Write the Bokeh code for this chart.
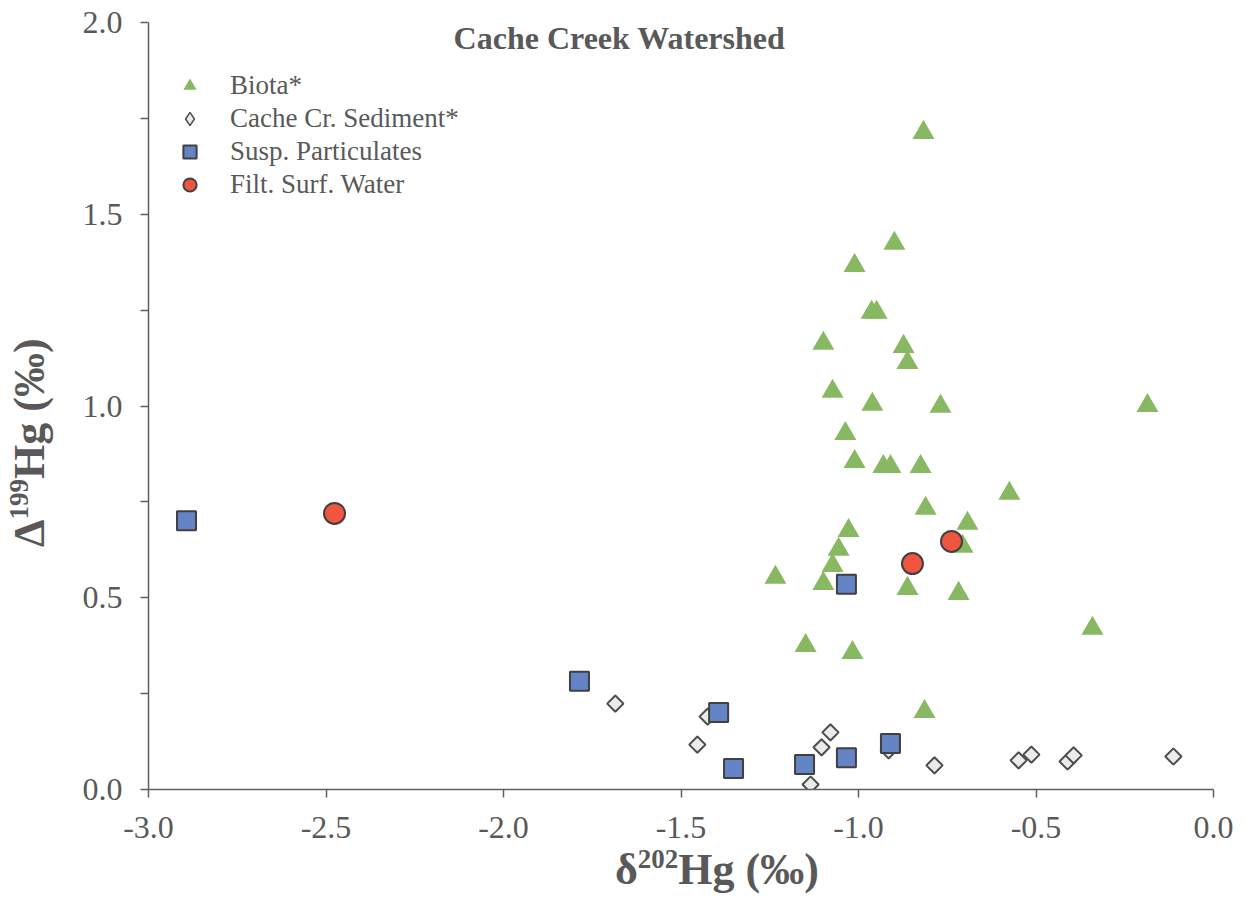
from bokeh.plotting import figure
from bokeh.models import Range1d, FixedTicker, Legend, LegendItem, Label, Div
from bokeh.layouts import column
from bokeh.embed import file_html
from bokeh.resources import INLINE

# Hg isotope data, Cache Creek watershed: d202Hg (x) vs D199Hg (y), per mille
biota_d202 = [-0.817, -0.899, -1.011, -0.963, -0.949, -1.099, -0.873, -0.862,
              -1.073, -0.961, -0.769, -0.186, -1.037, -1.011, -0.930, -0.910,
              -0.825, -0.575, -0.811, -0.693, -0.707, -1.028, -1.056, -1.073,
              -1.099, -1.234, -0.862, -0.718, -0.341, -1.149, -1.017, -0.814]
biota_D199 = [1.713, 1.424, 1.366, 1.244, 1.244, 1.163, 1.155, 1.113,
              1.038, 1.004, 0.999, 1.001, 0.928, 0.855, 0.842, 0.842,
              0.842, 0.772, 0.733, 0.694, 0.634, 0.675, 0.626, 0.584,
              0.537, 0.553, 0.524, 0.511, 0.420, 0.375, 0.357, 0.203]

sediment_d202 = [-1.685, -1.425, -1.454, -1.079, -1.104, -1.135, -0.915,
                 -0.786, -0.549, -0.513, -0.411, -0.394, -0.113]
sediment_D199 = [0.224, 0.190, 0.117, 0.149, 0.110, 0.013, 0.102,
                 0.063, 0.076, 0.091, 0.073, 0.089, 0.086]

particulates_d202 = [-2.893, -1.034, -1.786, -1.394, -1.352, -1.152, -1.034, -0.910]
particulates_D199 = [0.701, 0.535, 0.282, 0.201, 0.055, 0.065, 0.083, 0.120]

water_d202 = [-2.476, -0.848, -0.738]
water_D199 = [0.720, 0.589, 0.647]

series_names = ["Biota*", "Cache Cr. Sediment*", "Susp. Particulates", "Filt. Surf. Water"]

x_ticks = [-3.0, -2.5, -2.0, -1.5, -1.0, -0.5, 0.0]
x_tick_labels = ["-3.0", "-2.5", "-2.0", "-1.5", "-1.0", "-0.5", "0.0"]
y_ticks = [0.0, 0.5, 1.0, 1.5, 2.0]
y_tick_labels = ["0.0", "0.5", "1.0", "1.5", "2.0"]
y_minor_ticks = [0.25, 0.75, 1.25, 1.75]

FONT = "Liberation Serif"
TEXT = "#595959"
AXIS = "#5f5f5f"

# frame placement on the canvas (pixels)
LEFT, RIGHT, TOP, BOTTOM = 148, 1213, 22, 789
W, H = 1246, 899

p = figure(width=W, height=H,
           x_range=Range1d(-3.0, 0.0), y_range=Range1d(0.0, 2.0),
           output_backend="svg", toolbar_location=None,
           min_border_left=LEFT, min_border_right=W - RIGHT,
           min_border_top=TOP, min_border_bottom=H - BOTTOM,
           background_fill_color="white", border_fill_color="white",
           outline_line_color=None)
p.grid.visible = False

xa, ya = p.xaxis[0], p.yaxis[0]
xa.ticker = FixedTicker(ticks=x_ticks, minor_ticks=[])
ya.ticker = FixedTicker(ticks=y_ticks, minor_ticks=y_minor_ticks)
xa.major_label_overrides = dict(zip(x_ticks, x_tick_labels))
ya.major_label_overrides = dict(zip(y_ticks, y_tick_labels))
for ax in (xa, ya):
    ax.axis_line_color = AXIS
    ax.axis_line_width = 1.5
    ax.major_tick_line_color = AXIS
    ax.major_tick_line_width = 1.5
    ax.major_tick_in = 0
    ax.major_tick_out = 8
    ax.minor_tick_line_color = AXIS
    ax.minor_tick_line_width = 1.5
    ax.minor_tick_in = 0
    ax.minor_tick_out = 8
    ax.major_label_text_font = FONT
    ax.major_label_text_font_size = "32px"
    ax.major_label_text_color = TEXT
    ax.axis_label = None
xa.major_label_standoff = 19
ya.major_label_standoff = 18

r_bio = p.scatter(biota_d202, biota_D199, marker="triangle", size=22,
                  fill_color="#88b862", line_color=None)

# legend swatch for the sediment series: legend swatches ignore marker angle,
# so a zero-size diamond glyph (hidden under the real markers) supplies it
sed_key = p.scatter(sediment_d202, sediment_D199, marker="diamond", size=0,
                    fill_color="#ebebeb", line_color="#4d4d4d", line_width=1.5)

r_sed = p.scatter(sediment_d202, sediment_D199, marker="square", angle=45,
                  angle_units="deg", size=11.5, fill_color="#ebebeb",
                  line_color="#4d4d4d", line_width=2)
r_par = p.scatter(particulates_d202, particulates_D199, marker="square", size=19,
                  fill_color="#6584c6", line_color="#404040", line_width=2)
r_wat = p.scatter(water_d202, water_D199, marker="circle", size=21,
                  fill_color="#f0563f", line_color="#404040", line_width=2)

legend = Legend(
    items=[LegendItem(label=n, renderers=[r])
           for n, r in zip(series_names, [r_bio, sed_key, r_par, r_wat])],
    location=(25, BOTTOM - 201), orientation="vertical",
    glyph_width=33, glyph_height=33, spacing=0, padding=0, margin=0,
    label_standoff=24, label_text_font=FONT, label_text_font_size="27px",
    label_text_color=TEXT, border_line_color=None, background_fill_alpha=0,
)
p.add_layout(legend)

# chart title
p.add_layout(Label(
    x=619 - LEFT, y=BOTTOM - 37, x_units="screen", y_units="screen",
    text="Cache Creek Watershed", text_font=FONT, text_font_size="32px",
    text_font_style="bold", text_color=TEXT, text_align="center",
    text_baseline="alphabetic",
))

# axis titles with real superscripts, laid over the plot's margins
SUP = "font-size:27px;line-height:0;vertical-align:16px"
axis_titles = f"""
<div style="position:relative;width:{W}px;height:{H}px;pointer-events:none;
            font-family:'{FONT}';font-weight:bold;color:{TEXT};font-size:44px;
            line-height:44px;white-space:nowrap">
  <div style="position:absolute;left:615px;top:848px">δ<span style="{SUP}">202</span>Hg (‰)</div>
  <div style="position:absolute;left:8px;top:547px;transform-origin:0 0;
              transform:rotate(-90deg)">Δ<span style="{SUP}">199</span>Hg (‰)</div>
</div>
"""
overlay = Div(text=axis_titles, width=W, height=H, margin=(-H, 0, 0, 0))

layout = column(p, overlay, spacing=0)

open("out.html", "w").write(file_html(layout, INLINE))
